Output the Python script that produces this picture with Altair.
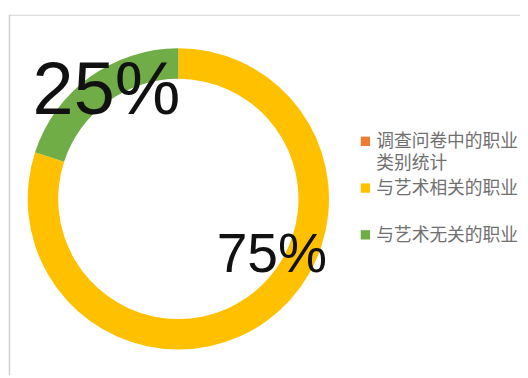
import altair as alt
import pandas as pd

# ---- data ----
categories = ["与艺术相关的职业", "与艺术无关的职业"]
shares = [80, 20]            # drawn arc sizes (measured)
label_texts = ["75%", "25%"]  # printed labels
legend_entries = ["调查问卷中的职业\n类别统计", "与艺术相关的职业", "与艺术无关的职业"]
colors = ["#ED7D31", "#FFC000", "#70AD47"]

W, H = 520, 370
CX, CY = 173, 191

pie_df = pd.DataFrame({"cat": categories, "value": shares, "idx": list(range(len(categories)))})
leg_df = pd.DataFrame({"entry": legend_entries})

color_scale = alt.Scale(domain=legend_entries, range=colors)

donut = alt.Chart(pie_df).mark_arc(
    innerRadius=122, outerRadius=153, x=CX, y=CY
).encode(
    theta=alt.Theta("value:Q", stack=True),
    color=alt.Color("cat:N", scale=color_scale, legend=None),
    order=alt.Order("idx:Q"),
)

lab25 = alt.Chart(pd.DataFrame({"t": [label_texts[1]]})).mark_text(
    font="Liberation Sans", fontSize=75, color="#111111", align="center", baseline="alphabetic"
).encode(text="t:N", x=alt.value(100), y=alt.value(105))

lab75 = alt.Chart(pd.DataFrame({"t": [label_texts[0]]})).mark_text(
    font="Liberation Sans", fontSize=56, color="#111111", align="center", baseline="alphabetic"
).encode(text="t:N", x=alt.value(268), y=alt.value(265))

leg_y = alt.Y("entry:N", sort=legend_entries,
              scale=alt.Scale(type="point", range=[132.5, 227.5], padding=0), axis=None)

leg_sq = alt.Chart(leg_df).mark_square(size=90, opacity=1).encode(
    x=alt.value(363),
    y=leg_y,
    color=alt.Color("entry:N", scale=color_scale, legend=None),
)

leg_tx = alt.Chart(leg_df).mark_text(
    font="Noto Sans CJK SC", fontSize=18, color="#707070", align="left",
    baseline="alphabetic", lineBreak="\n", lineHeight=22, dy=6
).encode(
    x=alt.value(374),
    y=leg_y,
    text="entry:N",
)

frame_top = alt.Chart(pd.DataFrame({"a": [0]})).mark_rule(color="#d6d6d6", strokeWidth=1).encode(
    x=alt.value(1), x2=alt.value(W), y=alt.value(4.5)
)
frame_left = alt.Chart(pd.DataFrame({"a": [0]})).mark_rule(color="#d0d0d0", strokeWidth=1.5).encode(
    x=alt.value(1.5), y=alt.value(4), y2=alt.value(H)
)

chart = alt.layer(frame_top, frame_left, donut, lab25, lab75, leg_sq, leg_tx).properties(
    width=W, height=H, autosize=alt.AutoSizeParams(type="none"), padding=0, background="white"
).configure_view(stroke=None)

chart.save("out.html", embed_options={"renderer": "svg", "actions": False})
